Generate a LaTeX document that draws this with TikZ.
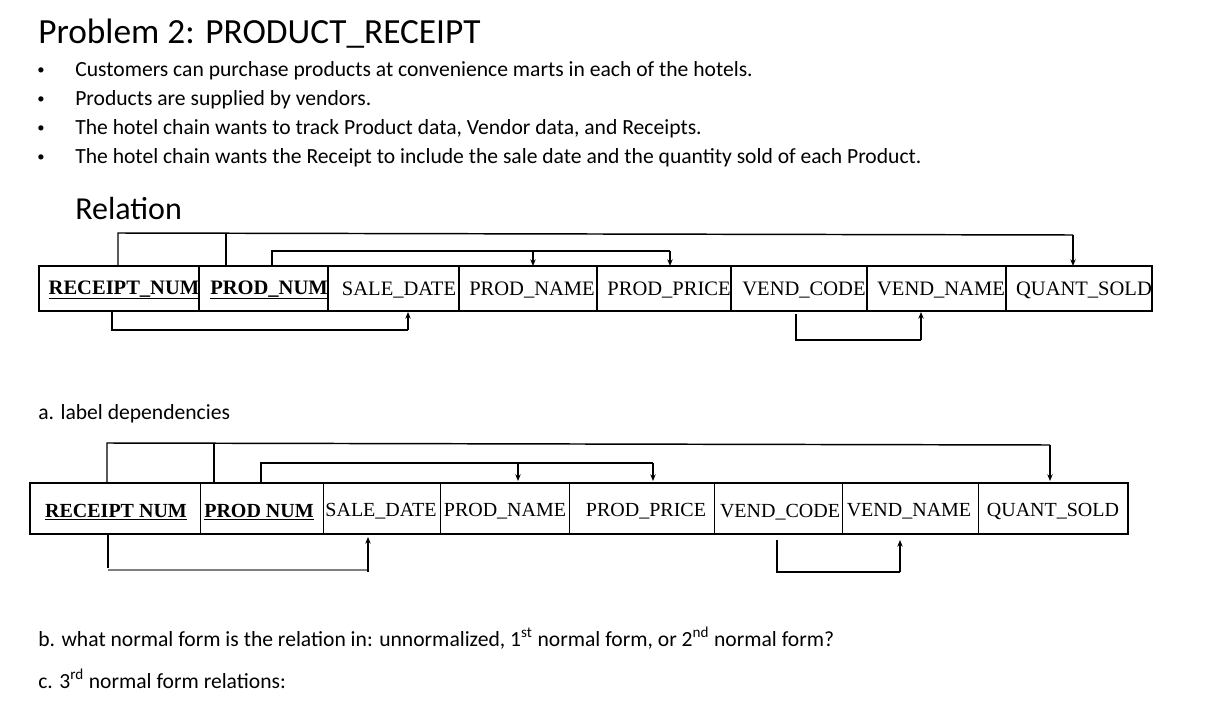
\documentclass[tikz,border=0pt]{standalone}
\usepackage{fontspec}
\setmainfont{Carlito}
\newfontfamily\tms{Liberation Serif}
\usetikzlibrary{arrows.meta}
\begin{document}
\begin{tikzpicture}[x=0.75pt,y=-0.75pt,
  txt/.style={anchor=west,inner sep=0,font=\fontsize{16.2}{18}\selectfont},
  cellt/.style={font=\tms\fontsize{15.4}{17}\selectfont,inner sep=0},
  cellk/.style={font=\tms\bfseries\fontsize{15.4}{17}\selectfont,inner sep=0},
  cellb/.style={font=\tms\fontsize{15}{17}\selectfont,inner sep=0},
  cellbk/.style={font=\tms\bfseries\fontsize{15}{17}\selectfont,inner sep=0},
  dep/.style={line width=1.1pt},
  arr/.style={line width=1.1pt,-{Stealth[length=5pt,width=4pt]}}]
\useasboundingbox (0,0) rectangle (1222,717);
\node[txt,font=\fontsize{26.5}{30}\selectfont] (title) at (38,34) {Problem 2: PRODUCT\_RECEIPT};
\foreach \y/\t [count=\i] in {71/{Customers can purchase products at convenience marts in each of the hotels.},100/{Products are supplied by vendors.},129/{The hotel chain wants to track Product data, Vendor data, and Receipts.},158/{The hotel chain wants the Receipt to include the sale date and the quantity sold of each Product.}}{
  \node[txt,font=\fontsize{11}{12}\selectfont] (b\i) at (37,\y) {•};
  \node[txt] (t\i) at (75,\y) {\t};}
\node[txt,font=\fontsize{24}{27}\selectfont] (rel) at (75,209) {Relation};
% top table
\draw[line width=1pt] (39,266) rectangle (1152,311);
\foreach \x in {199,328,459,597,731,867,1006} \draw[line width=1pt] (\x,266) -- (\x,311);
\node[cellk] (r1) at (124,290) {\underline{RECEIPT\_NUM}};
\node[cellk] (p1) at (269,290) {\underline{PROD\_NUM}};
\node[cellt] (s1) at (399,290) {SALE\_DATE};
\node[cellt] (n1) at (532,290) {PROD\_NAME};
\node[cellt] (pp1) at (669,290) {PROD\_PRICE};
\node[cellt] (vc1) at (804,290) {VEND\_CODE};
\node[cellt] (vn1) at (941,290) {VEND\_NAME};
\node[cellt] (q1) at (1084,290) {QUANT\_SOLD};
\draw[dep] (118,266) -- (118,233) -- (1073,235);
\draw[arr] (1073,235) -- (1073,266);
\draw[dep] (226,266) -- (226,233);
\draw[dep] (272,266) -- (272,251) -- (670,251);
\draw[arr] (670,251) -- (670,266);
\draw[arr] (533,251) -- (533,266);
\draw[dep] (112,311) -- (112,330) -- (408,330);
\draw[arr] (408,330) -- (408,312);
\draw[dep] (796,314) -- (796,340) -- (921,340);
\draw[arr] (921,340) -- (921,312);
\node[txt] (a) at (38,414) {a. label dependencies};
% bottom table
\draw[line width=1pt] (30,483) rectangle (1128,534);
\foreach \x in {200,323,440,569,714,842,978} \draw[line width=0.6pt] (\x,483) -- (\x,534);
\node[cellbk] (r2) at (116,512) {\underline{RECEIPT NUM}};
\node[cellbk] (p2) at (259,512) {\underline{PROD NUM}};
\node[cellb] (s2) at (381,511) {SALE\_DATE};
\node[cellb] (n2) at (505,511) {PROD\_NAME};
\node[cellb] (pp2) at (646,511) {PROD\_PRICE};
\node[cellb] (vc2) at (780,512) {VEND\_CODE};
\node[cellb] (vn2) at (909,511) {VEND\_NAME};
\node[cellb] (q2) at (1053,511) {QUANT\_SOLD};
\draw[dep] (107,483) -- (107,443) -- (1050,445);
\draw[arr] (1050,445) -- (1050,481);
\draw[dep] (214,483) -- (214,443);
\draw[dep] (261,483) -- (261,463) -- (653,463);
\draw[arr] (653,463) -- (653,481);
\draw[arr] (518,463) -- (518,481);
\draw[dep] (108,535) -- (108,568);
\draw[line width=0.8pt,gray] (108,570) -- (368,570);
\draw[arr] (368,572) -- (368,537);
\draw[dep] (777,540) -- (777,572) -- (900,572);
\draw[arr] (900,572) -- (900,540);
\node[txt] (bq) at (38,638) {b. what normal form is the relation in: unnormalized, 1\textsuperscript{st} normal form, or 2\textsuperscript{nd} normal form?};
\node[txt] (cq) at (38,679) {c. 3\textsuperscript{rd} normal form relations:};
\end{tikzpicture}
\end{document}
